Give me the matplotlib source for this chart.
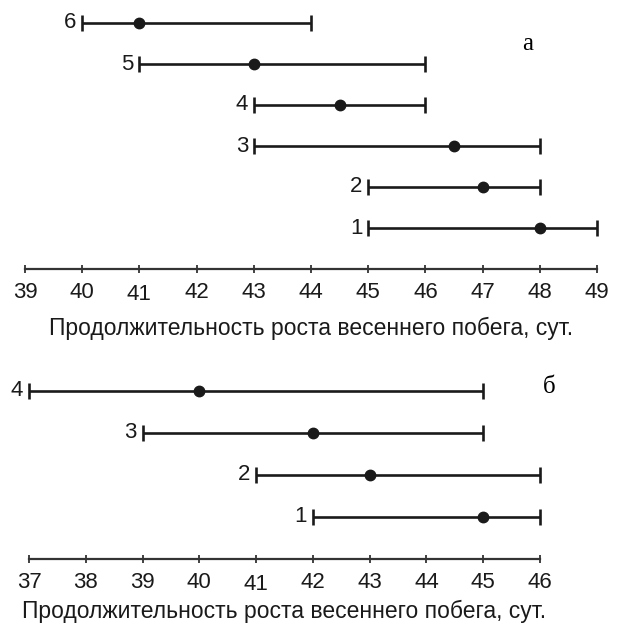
import matplotlib
matplotlib.use('Agg')
import matplotlib.pyplot as plt
from matplotlib.transforms import ScaledTranslation

plt.rcParams['font.family'] = ['Liberation Sans', 'DejaVu Sans']

# panel а
rows_a = [1, 2, 3, 4, 5, 6]
low_a = [45, 45, 43, 43, 41, 40]
high_a = [49, 48, 48, 46, 46, 44]
mean_a = [48, 47, 46.5, 44.5, 43, 41]

# panel б
rows_b = [1, 2, 3, 4]
low_b = [42, 41, 39, 37]
high_b = [46, 46, 45, 45]
mean_b = [45, 43, 42, 40]

xlabel = 'Продолжительность роста весеннего побега, сут.'

W, H = 626, 625
fig = plt.figure(figsize=(W / 100, H / 100), dpi=100)


def panel(rect, rows, low, high, mean, xmin, xmax, letter, letter_xy, lpad):
    ax = fig.add_axes(rect)
    err = [[m - l for m, l in zip(mean, low)], [h - m for h, m in zip(high, mean)]]
    ax.errorbar(mean, rows, xerr=err, fmt='o', color='#1a1a1a', ms=7.5,
                elinewidth=1.9, capsize=6, capthick=1.9, clip_on=False)
    for r, l in zip(rows, low):
        ax.text(l - 0.1, r, str(r), ha='right', va='center', fontsize=16,
                color='#1a1a1a')
    ax.set_xlim(xmin, xmax)
    ax.set_ylim(0, len(rows) + 0.5)
    ax.set_xticks(range(xmin, xmax + 1))
    for s in ['top', 'left', 'right']:
        ax.spines[s].set_visible(False)
    ax.spines['bottom'].set_linewidth(1.6)
    ax.spines['bottom'].set_color('#333333')
    ax.set_yticks([])
    ax.tick_params(axis='x', direction='inout', length=6, width=1.3,
                   labelsize=16, pad=6, colors='#333333', labelcolor='#1a1a1a')
    # the scanned "41" sits a little lower than its neighbours
    for lab in ax.get_xticklabels():
        if lab.get_text() == '41':
            lab.set_transform(lab.get_transform() +
                              ScaledTranslation(0, -3 / 100, fig.dpi_scale_trans))
    ax.set_xlabel(xlabel, fontsize=16.5, labelpad=lpad, color='#1a1a1a')
    ax.text(letter_xy[0], letter_xy[1], letter, fontsize=18,
            family='Liberation Serif', ha='center', va='center', clip_on=False)
    return ax


# top panel: 39 at px 25, 49 at px 597, axis line at px 269, row step 41 px
panel([25 / W, (H - 269) / H, 572 / W, 6.5 * 41 / H],
      rows_a, low_a, high_a, mean_a, 39, 49, 'а', (47.78, 5.5), 8)

# bottom panel: 37 at px 29, 46 at px 540, axis line at px 559, row step 42 px
panel([29 / W, (H - 559) / H, 511 / W, 4.5 * 42 / H],
      rows_b, low_b, high_b, mean_b, 37, 46, 'б', (46.17, 4.1), 3)

plt.savefig('out.png', dpi=100)
